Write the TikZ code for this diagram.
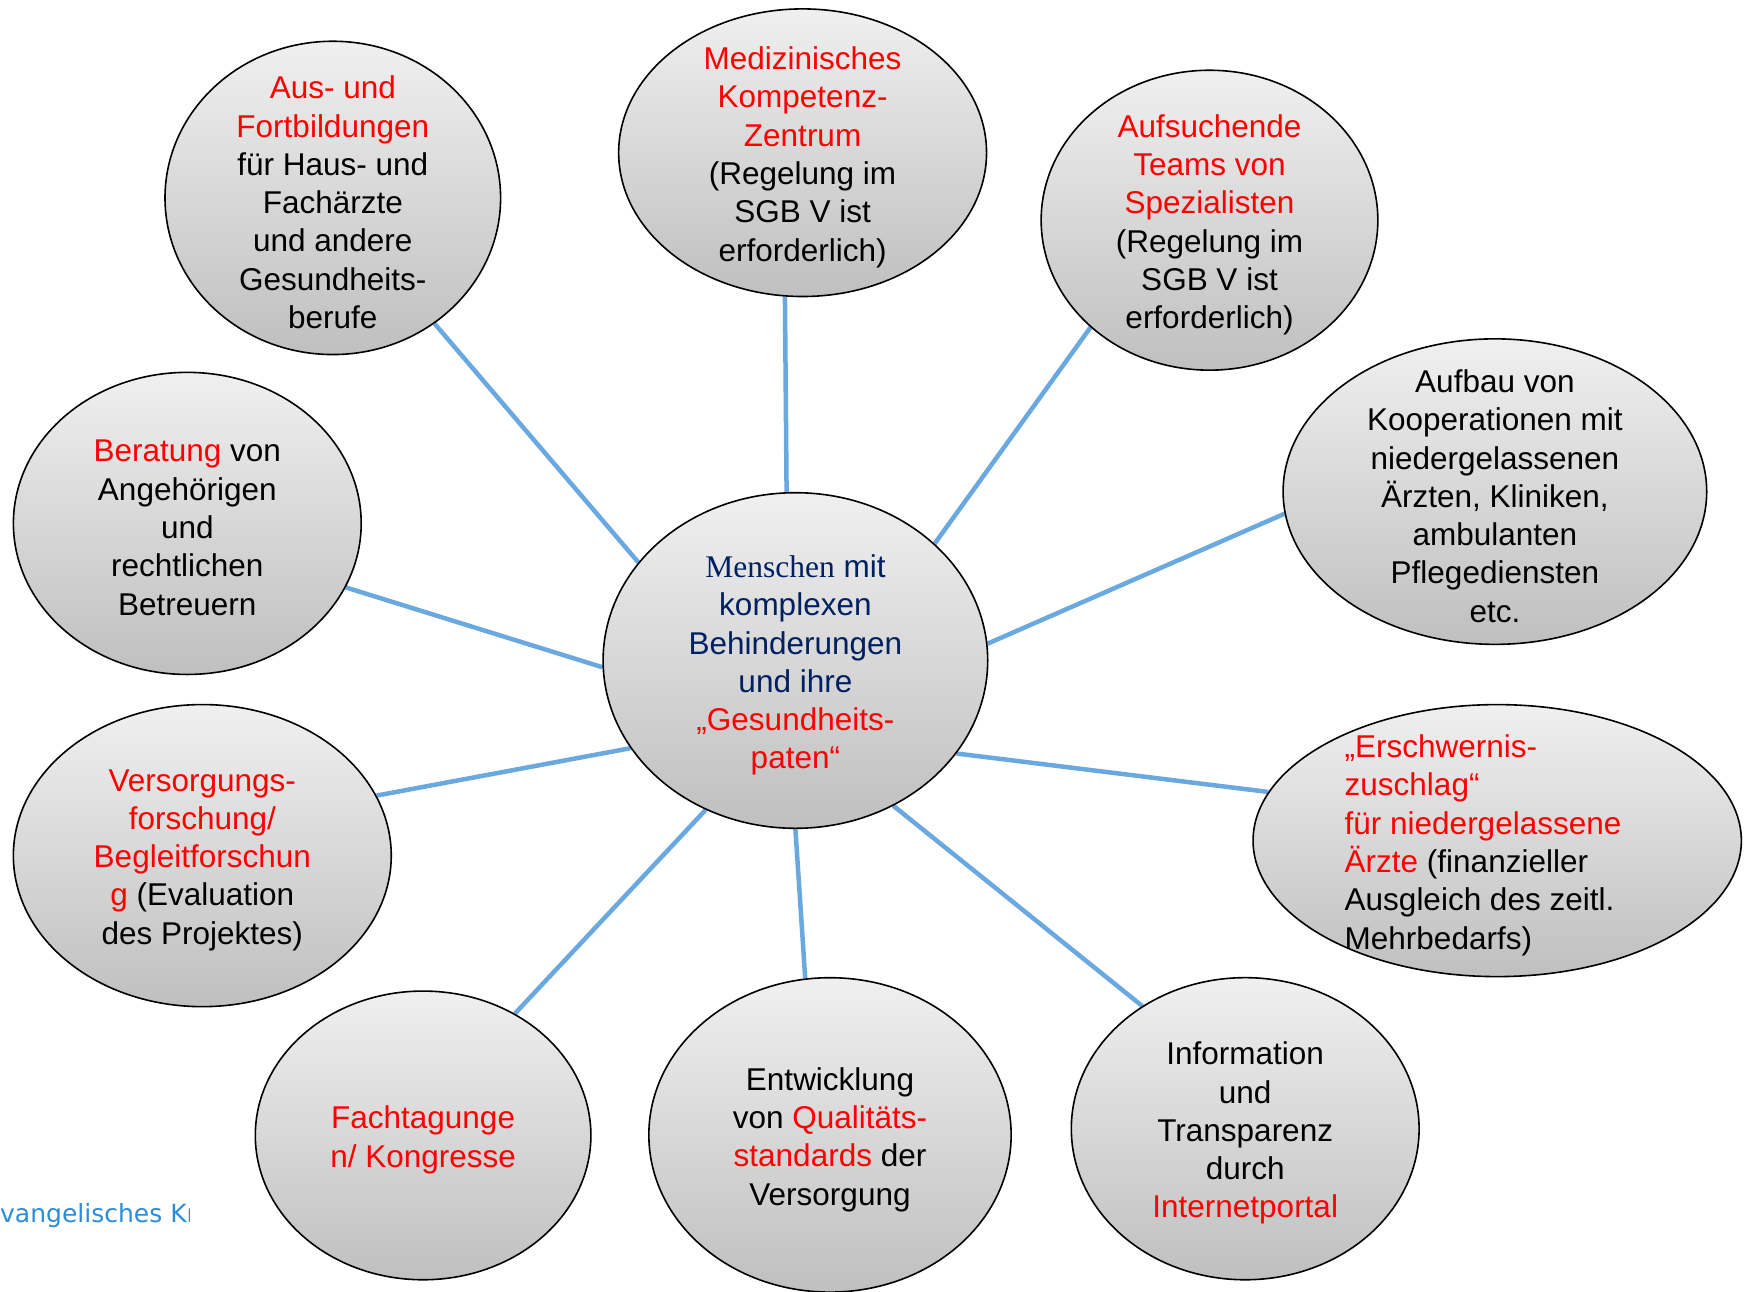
\documentclass[tikz,border=0pt]{standalone}
\usepackage{fontspec}
\setmainfont{Liberation Sans}
\newfontfamily\timesf{Liberation Serif}
\newfontfamily\footf{DejaVu Sans}
\usetikzlibrary{shapes.geometric}
\pgfdeclarelayer{bg}
\pgfsetlayers{bg,main}
\definecolor{linkblue}{RGB}{106,168,224}
\definecolor{navy}{RGB}{0,32,96}
\definecolor{hred}{RGB}{255,0,0}
\definecolor{footblue}{RGB}{45,140,215}
\tikzset{
  bubble/.style={ellipse, draw=black, line width=1.6pt, top color=gray!12, bottom color=gray!50, inner sep=0pt},
  btext/.style={font=\fontsize{31.5}{38.3}\selectfont, align=center, inner sep=0pt, text=black, yshift=-4.5pt},
  link/.style={draw=linkblue, line width=4.5pt},
}
\newcommand{\rd}[1]{\textcolor{hred}{#1}}
\begin{document}
\begin{tikzpicture}[x=1pt,y=-1pt]
\useasboundingbox (0,0) rectangle (1748,1291);

% centre
\node[bubble, minimum width=384.6pt, minimum height=335.6pt] (c) at (795.4,660.5) {};
\node[btext, text=navy] (tc) at (c.center) {{\timesf Menschen} mit\\komplexen\\Behinderungen\\und ihre\\\rd{„Gesundheits-}\\\rd{paten“}};

% outer bubbles
\node[bubble, minimum width=335.6pt, minimum height=313.3pt] (aus) at (332.8,197.9) {};
\node[btext] (taus) at (aus.center) {\rd{Aus- und}\\\rd{Fortbildungen}\\für Haus- und\\Fachärzte\\und andere\\Gesundheits-\\berufe};

\node[bubble, minimum width=367.9pt, minimum height=287.6pt] (med) at (802.6,152.7) {};
\node[btext] (tmed) at (med.center) {\rd{Medizinisches}\\\rd{Kompetenz-}\\\rd{Zentrum}\\(Regelung im\\SGB V ist\\erforderlich)};

\node[bubble, minimum width=336.7pt, minimum height=299.9pt] (aufs) at (1209.5,220.2) {};
\node[btext] (taufs) at (aufs.center) {\rd{Aufsuchende}\\\rd{Teams von}\\\rd{Spezialisten}\\(Regelung im\\SGB V ist\\erforderlich)};

\node[bubble, minimum width=423.6pt, minimum height=305.5pt] (aufb) at (1494.9,491.6) {};
\node[btext] (taufb) at (aufb.center) {Aufbau von\\Kooperationen mit\\niedergelassenen\\Ärzten, Kliniken,\\ambulanten\\Pflegediensten\\etc.};

\node[bubble, minimum width=488.3pt, minimum height=272.0pt] (ersch) at (1497.2,840.6) {};
\node[btext, align=left, anchor=west] (tersch) at (1344.5,840.6) {\rd{„Erschwernis-}\\\rd{zuschlag“}\\\rd{für niedergelassene}\\\rd{Ärzte} (finanzieller\\Ausgleich des zeitl.\\Mehrbedarfs)};

\node[bubble, minimum width=347.8pt, minimum height=302.1pt] (info) at (1245.2,1128.7) {};
\node[btext] (tinfo) at (info.center) {Information\\und\\Transparenz\\durch\\\rd{Internetportal}};

\node[bubble, minimum width=362.3pt, minimum height=314.4pt] (entw) at (830.0,1134.9) {};
\node[btext] (tentw) at (entw.center) {Entwicklung\\von \rd{Qualitäts-}\\\rd{standards} der\\Versorgung};

\node[bubble, minimum width=335.6pt, minimum height=288.7pt] (fach) at (423.1,1135.4) {};
\node[btext] (tfach) at (fach.center) {\rd{Fachtagunge}\\\rd{n/ Kongresse}};

\node[bubble, minimum width=377.9pt, minimum height=302.1pt] (vers) at (202.3,855.6) {};
\node[btext] (tvers) at (vers.center) {\rd{Versorgungs-}\\\rd{forschung/}\\\rd{Begleitforschun}\\\rd{g} (Evaluation\\des Projektes)};

\node[bubble, minimum width=347.8pt, minimum height=302.1pt] (ber) at (187.3,523.4) {};
\node[btext] (tber) at (ber.center) {\rd{Beratung} von\\Angehörigen\\und\\rechtlichen\\Betreuern};

% connectors
\begin{pgfonlayer}{bg}
\draw[link] (aus.-51) -- (c.148.7);
\draw[link] (med.-97.1) -- (c.93.2);
\draw[link] (aufs.-138.5) -- (c.40.7);
\draw[link] (aufb.-174) -- (c.5.8);
\draw[link] (ersch.168.8) -- (c.-30.8);
\draw[link] (info.130.3) -- (c.-56.3);
\draw[link] (entw.99.9) -- (c.-90.2);
\draw[link] (fach.53.3) -- (c.-121.8);
\draw[link] (vers.19.2) -- (c.-152.6);
\draw[link] (ber.-22.4) -- (c.-178.5);
\end{pgfonlayer}

% footer fragment
\begin{scope}
\clip (0,1180) rectangle (189,1245);
\node[anchor=base west, inner sep=0pt, font=\footf\fontsize{25}{30}\selectfont, text=footblue] (foot) at (0,1222.7) {vangelisches Kr};
\end{scope}
\end{tikzpicture}
\end{document}
